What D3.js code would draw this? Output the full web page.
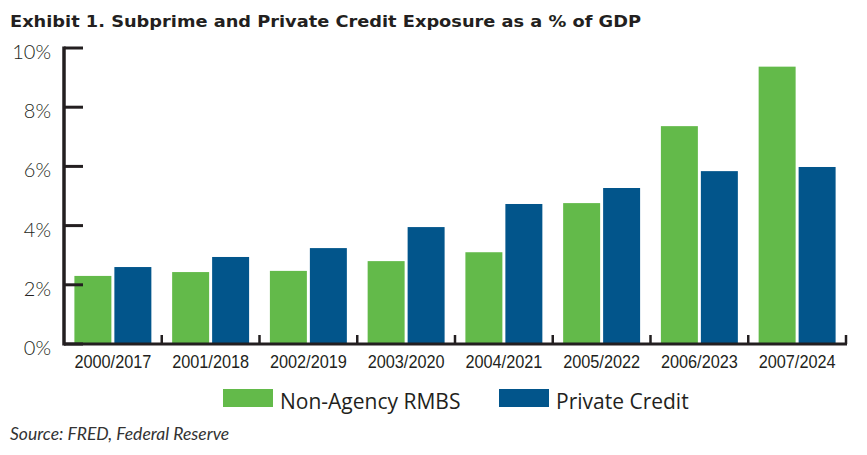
<!DOCTYPE html>
<html>
<head>
<meta charset="utf-8">
<script src="https://cdn.jsdelivr.net/npm/d3@7"></script>
<style>
  body { margin: 0; background: #fff; }
  svg { display: block; }
</style>
</head>
<body>
<div id="chart"></div>
<script>
const categories = ['2000/2017', '2001/2018', '2002/2019', '2003/2020', '2004/2021', '2005/2022', '2006/2023', '2007/2024'];
const seriesNames = ['Non-Agency RMBS', 'Private Credit'];
const rmbsValues = [2.30, 2.43, 2.47, 2.80, 3.10, 4.76, 7.36, 9.37];
const privateCreditValues = [2.60, 2.94, 3.24, 3.95, 4.73, 5.27, 5.84, 5.98];
const yTicks = [0, 2, 4, 6, 8, 10];

const colors = { 'Non-Agency RMBS': '#63ba4a', 'Private Credit': '#02558b' };
const ink = '#231f20';

const width = 867, height = 455;
const margin = { top: 48, right: 21, bottom: 111, left: 64 };

const svg = d3.select('#chart').append('svg')
    .attr('width', width)
    .attr('height', height);

const data = categories.map((c, i) => ({
    category: c,
    values: [
        { key: seriesNames[0], value: rmbsValues[i] },
        { key: seriesNames[1], value: privateCreditValues[i] }
    ]
}));

const x = d3.scaleBand()
    .domain(categories)
    .range([margin.left, width - margin.right])
    .padding(0);

const xInner = d3.scaleBand()
    .domain(seriesNames)
    .range([0, x.bandwidth()])
    .paddingInner(0.075)
    .paddingOuter(0.26);

const y = d3.scaleLinear()
    .domain([0, 10])
    .range([height - margin.bottom, margin.top]);

// title
svg.append('text')
    .attr('x', 10)
    .attr('y', 27)
    .attr('textLength', 631)
    .attr('lengthAdjust', 'spacingAndGlyphs')
    .style('font', '700 16.5px "DejaVu Sans", sans-serif')
    .style('fill', ink)
    .text('Exhibit 1. Subprime and Private Credit Exposure as a % of GDP');

// bars
const groups = svg.append('g').selectAll('g')
    .data(data)
    .join('g')
    .attr('transform', d => `translate(${x(d.category)},0)`);

groups.selectAll('rect')
    .data(d => d.values)
    .join('rect')
    .attr('x', d => xInner(d.key))
    .attr('width', xInner.bandwidth())
    .attr('y', d => y(d.value))
    .attr('height', d => y(0) - y(d.value))
    .attr('fill', d => colors[d.key]);

// y axis
const yAxis = svg.append('g')
    .attr('transform', `translate(${margin.left},0)`);

yAxis.append('line')
    .attr('x1', 0).attr('x2', 0)
    .attr('y1', y(10) - 1.5).attr('y2', y(0) + 1.5)
    .attr('stroke', ink)
    .attr('stroke-width', 3.5);

yAxis.selectAll('.ytick')
    .data(yTicks)
    .join('line')
    .attr('class', 'ytick')
    .attr('x1', 0).attr('x2', 19)
    .attr('y1', d => y(d)).attr('y2', d => y(d))
    .attr('stroke', ink)
    .attr('stroke-width', 3);

yAxis.selectAll('.ylabel')
    .data(yTicks)
    .join('text')
    .attr('class', 'ylabel')
    .attr('x', -13)
    .attr('y', d => y(d) + 11)
    .attr('text-anchor', 'end')
    .style('font', '300 20px Lato, sans-serif')
    .style('fill', ink)
    .text(d => d + '%');

// x axis
const xAxis = svg.append('g');

xAxis.append('line')
    .attr('x1', margin.left).attr('x2', width - margin.right + 1)
    .attr('y1', y(0)).attr('y2', y(0))
    .attr('stroke', ink)
    .attr('stroke-width', 3);

xAxis.selectAll('.xtick')
    .data(categories)
    .join('line')
    .attr('class', 'xtick')
    .attr('x1', d => x(d) + x.bandwidth()).attr('x2', d => x(d) + x.bandwidth())
    .attr('y1', y(0)).attr('y2', y(0) - 9)
    .attr('stroke', ink)
    .attr('stroke-width', 2.5);

xAxis.selectAll('.xlabel')
    .data(categories)
    .join('text')
    .attr('class', 'xlabel')
    .attr('x', d => x(d) + x.bandwidth() / 2)
    .attr('y', 368)
    .attr('text-anchor', 'middle')
    .attr('textLength', 77)
    .attr('lengthAdjust', 'spacingAndGlyphs')
    .style('font', '19px "Liberation Sans", Arial, sans-serif')
    .style('fill', ink)
    .text(d => d);

// legend
const legendPos = [223, 499];
const legend = svg.append('g').selectAll('g')
    .data(seriesNames)
    .join('g')
    .attr('transform', (d, i) => `translate(${legendPos[i]},389)`);

legend.append('rect')
    .attr('width', 50)
    .attr('height', 18)
    .attr('fill', d => colors[d]);

legend.append('text')
    .attr('x', 57)
    .attr('y', 20)
    .style('font', '21px "Open Sans", sans-serif')
    .style('fill', ink)
    .text(d => d);

// source
svg.append('text')
    .attr('x', 10)
    .attr('y', 440)
    .style('font', 'italic 17.5px Lato, sans-serif')
    .style('fill', '#333')
    .text('Source: FRED, Federal Reserve');
</script>
</body>
</html>
